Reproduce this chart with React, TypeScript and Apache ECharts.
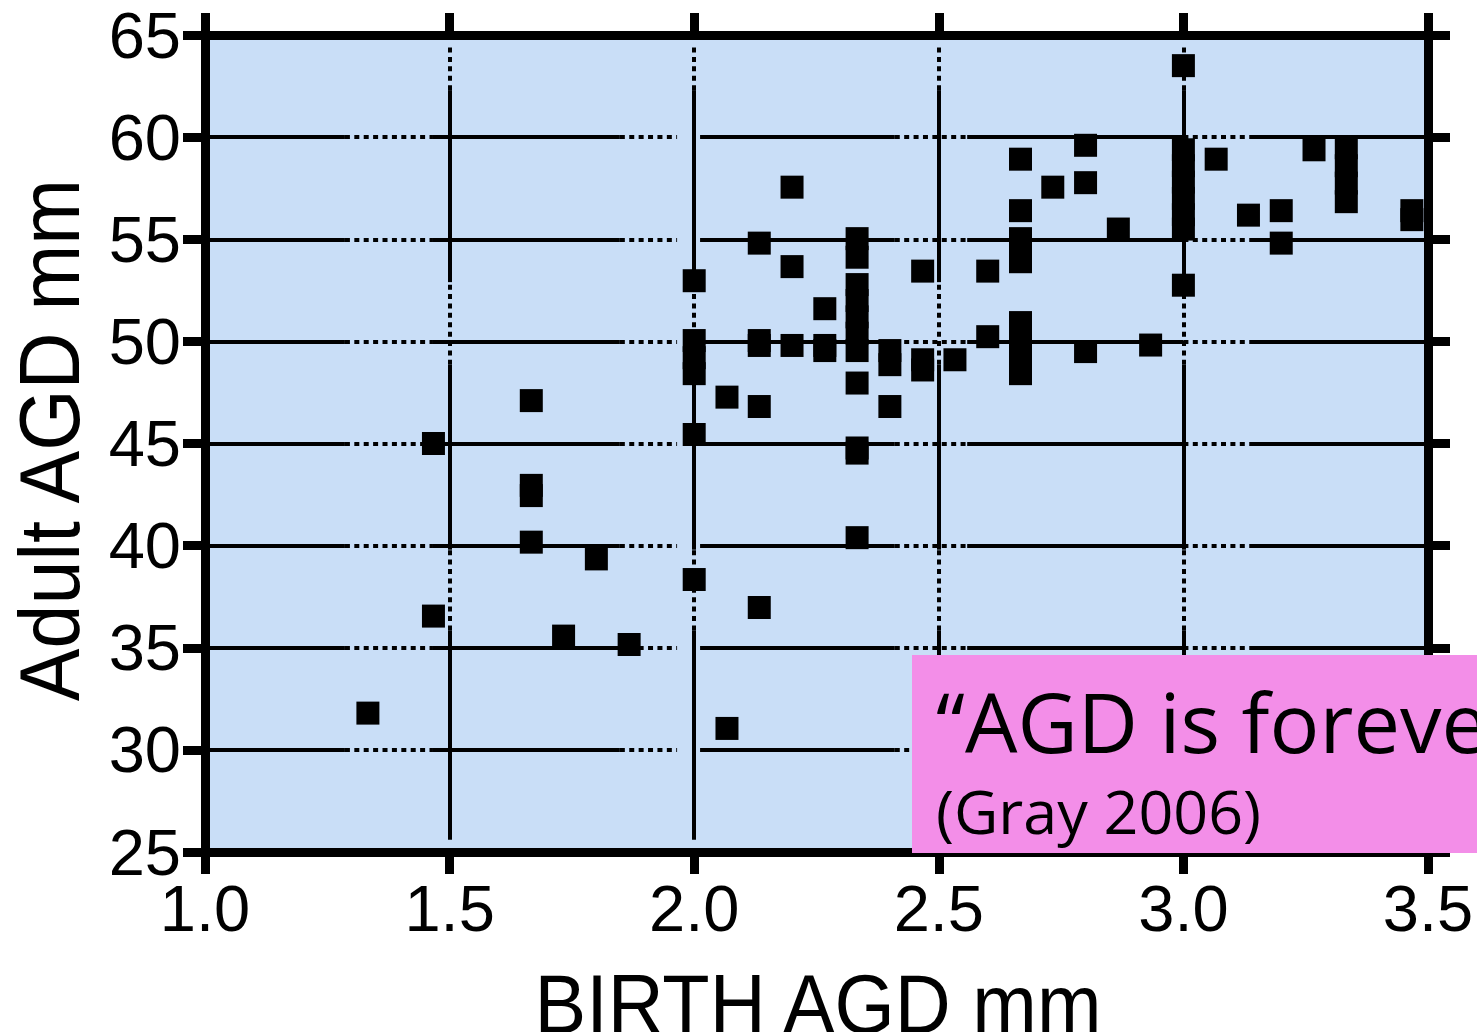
import React, { useEffect, useRef } from "react";
import * as echarts from "echarts";

// ---- data ----
const birthAgd = [
  1.333,
  1.467, 1.467,
  1.667, 1.667, 1.667, 1.667,
  1.733,
  1.8,
  1.867,
  2.0, 2.0, 2.0, 2.0, 2.0, 2.0,
  2.067, 2.067,
  2.133, 2.133, 2.133, 2.133, 2.133,
  2.2, 2.2, 2.2,
  2.267, 2.267, 2.267,
  2.333, 2.333, 2.333, 2.333, 2.333, 2.333, 2.333, 2.333, 2.333, 2.333, 2.333,
  2.4, 2.4, 2.4,
  2.467, 2.467, 2.467,
  2.533,
  2.6, 2.6,
  2.667, 2.667, 2.667, 2.667, 2.667, 2.667, 2.667, 2.667, 2.667,
  2.733,
  2.8, 2.8, 2.8,
  2.867,
  2.933,
  3.0, 3.0, 3.0, 3.0, 3.0, 3.0, 3.0, 3.0,
  3.067,
  3.133,
  3.2, 3.2,
  3.267,
  3.333, 3.333, 3.333, 3.333,
  3.467, 3.467,
];
const adultAgd = [
  31.8,
  45.0, 36.55,
  47.1, 42.95, 42.45, 40.17,
  35.57,
  39.35,
  35.16,
  52.97, 50.04, 49.2, 48.42, 45.44, 38.34,
  47.27, 31.05,
  54.81, 50.04, 49.8, 46.81, 36.97,
  57.55, 53.66, 49.8,
  51.6, 49.8, 49.55,
  55.03, 54.12, 52.78, 52.0, 51.2, 50.4, 49.55, 47.96, 44.78, 44.53, 40.39,
  49.55, 48.86, 46.81,
  53.44, 49.1, 48.6,
  49.1,
  53.44, 50.23,
  58.92, 56.4, 55.03, 54.47, 53.9, 50.92, 50.09, 49.25, 48.42,
  57.55,
  59.6, 57.77, 49.5,
  55.5,
  49.82,
  63.5, 59.38, 58.6, 57.8, 57.0, 56.2, 55.5, 52.75,
  58.92,
  56.18,
  56.4, 54.81,
  59.38,
  59.48, 58.6, 57.75, 56.84,
  56.4, 55.96,
];
const xTicks = [1.0, 1.5, 2.0, 2.5, 3.0, 3.5];
const yTicks = [25, 30, 35, 40, 45, 50, 55, 60, 65];
const xTitle = "BIRTH AGD mm";
const yTitle = "Adult AGD mm";
const quoteText = "\u201CAGD is forever\u201D";
const citeText = "(Gray 2006)";

// grid lines as drawn in the original (solid with dotted stretches)
const hGridValues = [30, 35, 40, 45, 50, 55, 60];
const vGridValues = [1.5, 2.0, 2.5, 3.0];
const hSegments: [number, number, boolean][] = [
  [1.0, 1.286, false], [1.286, 1.466, true], [1.466, 1.848, false],
  [1.848, 1.965, true], [2.012, 2.41, false], [2.41, 2.558, true],
  [2.558, 3.0, false], [3.0, 3.136, true], [3.136, 3.5, false],
];
const vSegments: [number, number, boolean][] = [
  [25.6, 35.85, false], [35.85, 39.8, true], [39.8, 48.85, false],
  [48.85, 52.9, true], [52.9, 62.3, false], [62.3, 64.55, true],
];

const FONT = "Liberation Sans, Arial, sans-serif";

export default function App() {
  const ref = useRef<HTMLDivElement>(null);
  useEffect(() => {
    if (!ref.current) return;
    const chart = echarts.init(ref.current, undefined, { renderer: "svg" });
    const xMin = xTicks[0];
    const xMax = xTicks[xTicks.length - 1];
    const xStep = xTicks[1] - xTicks[0];
    const yMin = yTicks[0];
    const yMax = yTicks[yTicks.length - 1];
    const yStep = yTicks[1] - yTicks[0];

    const segStyle = (dotted: boolean) => ({
      color: "#000",
      width: 4,
      type: dotted ? [5, 4.4] : "solid",
      cap: "butt",
      opacity: 1,
    });
    const gridData: any[] = [];
    hGridValues.forEach((v) => {
      hSegments.forEach(([a, b, d]) => {
        gridData.push([{ coord: [a, v], lineStyle: segStyle(d) }, { coord: [b, v] }]);
      });
    });
    vGridValues.forEach((v) => {
      vSegments.forEach(([a, b, d]) => {
        gridData.push([{ coord: [v, a], lineStyle: segStyle(d) }, { coord: [v, b] }]);
      });
    });

    const axisCommon = {
      type: "value",
      axisLine: { show: true, onZero: false, lineStyle: { color: "#000", width: 9 } },
      axisTick: { show: true, inside: false, length: 22, lineStyle: { color: "#000", width: 9 } },
      splitLine: { show: false },
    };

    chart.setOption({
      animation: false,
      grid: {
        left: 205,
        right: 49,
        top: 35,
        bottom: 180,
        show: true,
        backgroundColor: "#C9DEF7",
        borderWidth: 0,
      },
      xAxis: [
        {
          ...axisCommon,
          position: "bottom",
          min: xMin,
          max: xMax,
          interval: xStep,
          axisLabel: {
            margin: 24,
            fontSize: 65,
            fontFamily: FONT,
            color: "#000",
            formatter: (v: number) => v.toFixed(1),
          },
        },
        {
          ...axisCommon,
          position: "top",
          min: xMin,
          max: xMax,
          interval: xStep,
          axisLabel: { show: false },
        },
      ],
      yAxis: [
        {
          ...axisCommon,
          position: "left",
          min: yMin,
          max: yMax,
          interval: yStep,
          axisLabel: {
            margin: 24,
            fontSize: 65,
            fontFamily: FONT,
            color: "#000",
          },
        },
        {
          ...axisCommon,
          position: "right",
          min: yMin,
          max: yMax,
          interval: yStep,
          axisLabel: { show: false },
        },
      ],
      series: [
        {
          type: "scatter",
          data: [],
          z: 1,
          silent: true,
          markLine: {
            silent: true,
            symbol: ["none", "none"],
            label: { show: false },
            emphasis: { disabled: true },
            animation: false,
            data: gridData,
          },
        },
        {
          type: "scatter",
          z: 3,
          data: birthAgd.map((x, i) => [x, adultAgd[i]]),
          symbol: "rect",
          symbolSize: 23,
          itemStyle: { color: "#000", opacity: 1 },
        },
      ],
      graphic: [
        {
          type: "text",
          x: 50,
          y: 440,
          rotation: Math.PI / 2,
          scaleY: 1.07,
          style: {
            text: yTitle,
            fontSize: 79,
            fontFamily: FONT,
            fill: "#000",
            align: "center",
            verticalAlign: "middle",
          },
        },
        {
          type: "text",
          x: 818,
          y: 1004,
          scaleY: 1.07,
          style: {
            text: xTitle,
            fontSize: 77.5,
            fontFamily: FONT,
            fill: "#000",
            align: "center",
            verticalAlign: "middle",
          },
        },
        {
          type: "rect",
          z: 100,
          shape: { x: 912, y: 655, width: 580, height: 198 },
          style: { fill: "#F38EE8" },
        },
        {
          type: "text",
          z: 101,
          x: 936,
          y: 720,
          style: {
            text: quoteText,
            fontSize: 83,
            fontFamily: "Open Sans",
            fill: "#000",
            align: "left",
            verticalAlign: "middle",
          },
        },
        {
          type: "text",
          z: 101,
          x: 936,
          y: 810,
          style: {
            text: citeText,
            fontSize: 61,
            fontFamily: "Open Sans",
            fill: "#000",
            align: "left",
            verticalAlign: "middle",
          },
        },
      ],
    });
    return () => chart.dispose();
  }, []);
  return (
    <div
      ref={ref}
      style={{ position: "absolute", left: 0, top: 0, width: 1477, height: 1032, background: "#fff" }}
    />
  );
}
